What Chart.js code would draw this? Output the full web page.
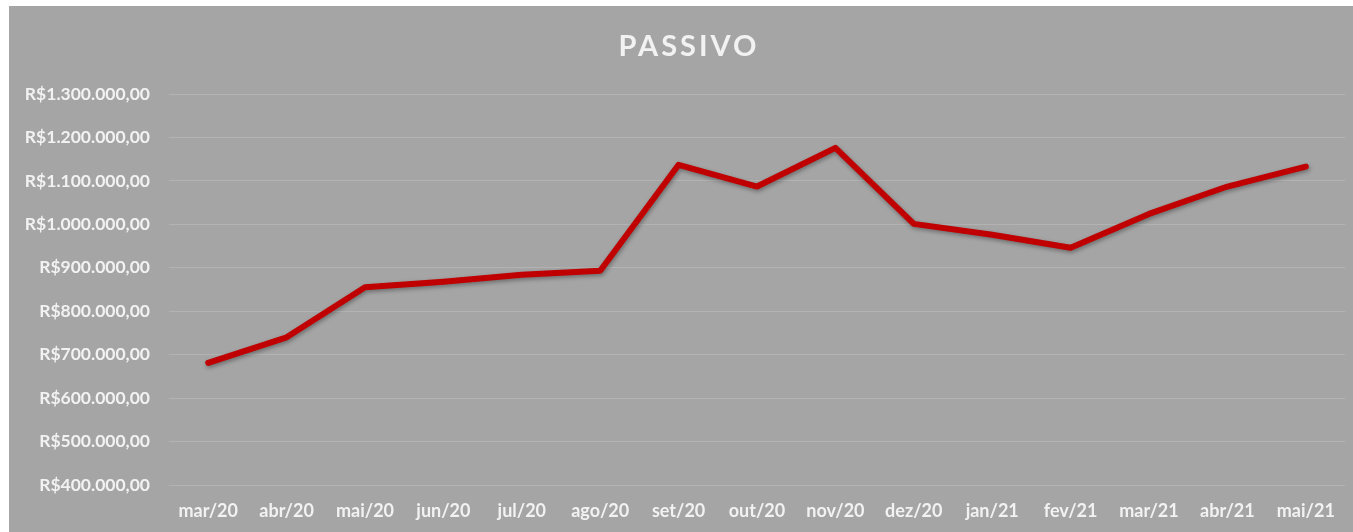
<!DOCTYPE html>
<html>
<head>
<meta charset="utf-8">
<script src="https://cdn.jsdelivr.net/npm/chart.js@4"></script>
<style>
  body { margin: 0; background: #ffffff; }
  #wrap { position: absolute; left: 9px; top: 6px; width: 1344px; height: 526px; background: #a5a5a5; }
</style>
</head>
<body>
<div id="wrap"><canvas id="grafico" width="1344" height="526"></canvas></div>
<script>
const meses = ['mar/20', 'abr/20', 'mai/20', 'jun/20', 'jul/20', 'ago/20', 'set/20', 'out/20',
    'nov/20', 'dez/20', 'jan/21', 'fev/21', 'mar/21', 'abr/21', 'mai/21'];
const passivo = [681000, 740000, 855000, 868000, 884000, 893000, 1137000, 1087000,
    1176000, 1001000, 976000, 946000, 1024000, 1087000, 1133000];
const eixoMin = 400000;
const eixoMax = 1300000;
const eixoPasso = 100000;
const titulo = 'PASSIVO';

const corTexto = '#f2f2f2';

function formatarReal(v) {
    const partes = v.toFixed(2).split('.');
    const inteiro = partes[0].replace(/\B(?=(\d{3})+(?!\d))/g, '.');
    return 'R$' + inteiro + ',' + partes[1];
}

// sombra leve na linha, como no Excel
const sombra = {
    id: 'sombra',
    beforeDatasetDraw(chart) {
        const ctx = chart.ctx;
        ctx.save();
        ctx.shadowColor = 'rgba(0,0,0,0.35)';
        ctx.shadowBlur = 4;
        ctx.shadowOffsetX = 1;
        ctx.shadowOffsetY = 2;
    },
    afterDatasetDraw(chart) {
        chart.ctx.restore();
    }
};

// titulo espaçado (o plugin de título não tem letter-spacing)
const tituloEspacado = {
    id: 'tituloEspacado',
    afterDraw(chart) {
        const ctx = chart.ctx;
        ctx.save();
        ctx.font = 'bold 29px Lato';
        ctx.fillStyle = corTexto;
        ctx.letterSpacing = '3px';
        ctx.textAlign = 'center';
        ctx.textBaseline = 'middle';
        ctx.fillText(titulo, chart.width / 2 + 8, 41);
        ctx.restore();
    }
};

const ctx = document.getElementById('grafico').getContext('2d');
new Chart(ctx, {
    type: 'line',
    data: {
        labels: meses,
        datasets: [{
            label: 'Passivo',
            data: passivo,
            borderColor: '#c00000',
            borderWidth: 6,
            borderCapStyle: 'round',
            borderJoinStyle: 'round',
            pointRadius: 0,
            fill: false,
            tension: 0
        }]
    },
    options: {
        responsive: false,
        animation: false,
        layout: { padding: { left: 0, right: 8, top: 88, bottom: 0 } },
        plugins: {
            legend: { display: false },
            tooltip: { enabled: false },
            title: { display: false }
        },
        scales: {
            x: {
                offset: true,
                grid: { display: false, drawTicks: false },
                border: { display: false },
                ticks: {
                    color: corTexto,
                    font: { family: 'Lato', size: 18, weight: 'bold' },
                    padding: 15,
                    maxRotation: 0,
                    autoSkip: false
                },
                afterFit(scale) { scale.height = 47; }
            },
            y: {
                min: eixoMin,
                max: eixoMax,
                grid: { color: '#b3b3b3', lineWidth: 1, drawTicks: false },
                border: { display: false },
                ticks: {
                    stepSize: eixoPasso,
                    color: corTexto,
                    font: { family: 'Lato', size: 17.5, weight: 'bold' },
                    padding: 19,
                    callback: v => formatarReal(v)
                },
                afterFit(scale) { scale.width = 160; }
            }
        }
    },
    plugins: [sombra, tituloEspacado]
});
</script>
</body>
</html>
